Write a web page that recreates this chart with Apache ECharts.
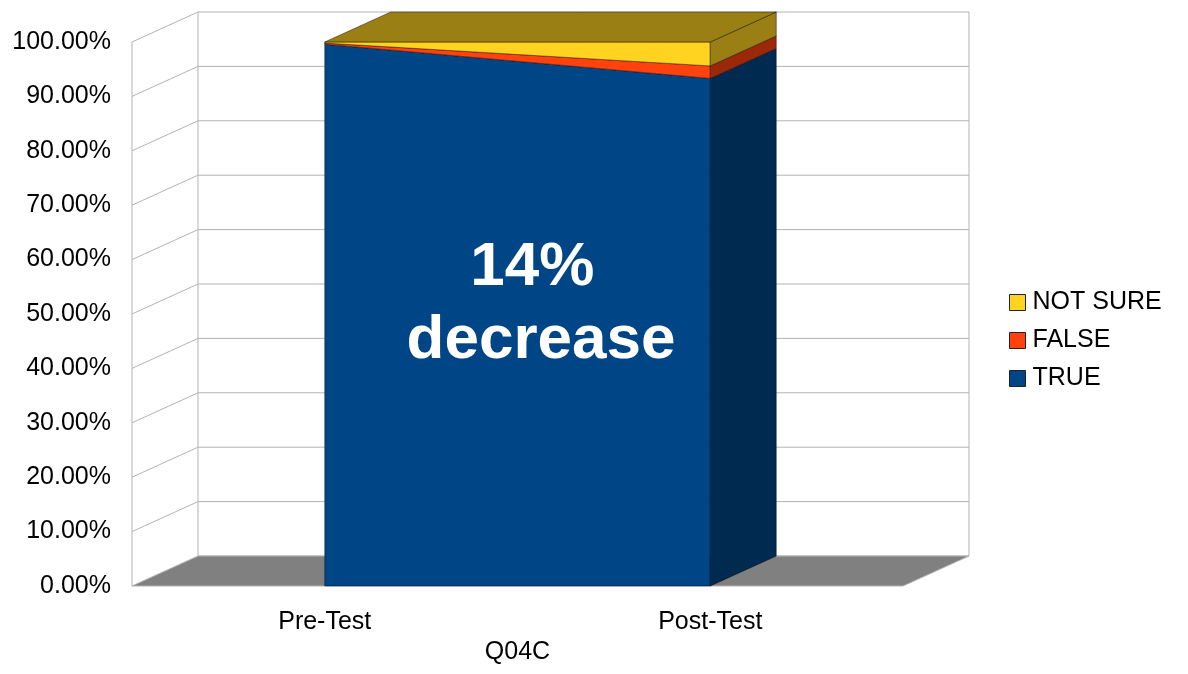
<!DOCTYPE html>
<html>
<head>
<meta charset="utf-8">
<script src="https://cdn.jsdelivr.net/npm/echarts@6/dist/echarts.min.js"></script>
<style>
  html, body { margin: 0; padding: 0; background: #fff; }
  #chart { width: 1188px; height: 674px; }
</style>
</head>
<body>
<div id="chart"></div>
<script>
const categories = ['Pre-Test', 'Post-Test']
const trueVals    = [99.6, 93.3]
const falseVals   = [0.2, 2.3]
const notSureVals = [0.2, 4.4]
const yTicks = [0, 10, 20, 30, 40, 50, 60, 70, 80, 90, 100]

// oblique depth of the 3d box, in px
const DX = 66
const DY = -30
const FONT = '"Liberation Sans", Arial, sans-serif'

const seriesDefs = [
  { name: 'TRUE',     vals: trueVals,    color: '#004586', shade: '#002a50' },
  { name: 'FALSE',    vals: falseVals,   color: '#ff420e', shade: '#9b2808' },
  { name: 'NOT SURE', vals: notSureVals, color: '#ffd320', shade: '#9a7f14' },
]

// stacked low / high for each category
const base = [0, 0]
const stacked = seriesDefs.map(s => {
  const lo = base.slice()
  const hi = s.vals.map((v, i) => base[i] + v)
  base[0] = hi[0]; base[1] = hi[1]
  return { ...s, lo, hi }
})

const edge = { stroke: 'rgba(0,0,0,0.55)', lineWidth: 0.8 }
const off = p => [p[0] + DX, p[1] + DY]

function areaItem(isTop, def) {
  return function (params, api) {
    const a0 = api.coord([0, api.value(1)])
    const a1 = api.coord([0, api.value(2)])
    const b0 = api.coord([1, api.value(3)])
    const b1 = api.coord([1, api.value(4)])
    const children = [
      { type: 'polygon', shape: { points: [a0, a1, b1, b0] },
        style: { fill: def.color, ...edge } },
      { type: 'polygon', shape: { points: [b0, b1, off(b1), off(b0)] },
        style: { fill: def.shade, ...edge } },
    ]
    if (isTop) {
      children.push({ type: 'polygon', shape: { points: [a1, b1, off(b1), off(a1)] },
        style: { fill: def.shade, ...edge } })
    }
    return { type: 'group', children }
  }
}

function wallItem(params, api) {
  const cs = params.coordSys
  const x0 = cs.x, x1 = cs.x + cs.width
  const v = api.value(1)
  const y = api.coord([0, v])[1]
  const grid = { stroke: '#b3b3b3', lineWidth: 1 }
  const children = []
  if (v === 0) {
    const yTop = api.coord([0, yTicks[yTicks.length - 1]])[1]
    children.push(
      { type: 'line', shape: { x1: x0, y1: y, x2: x0, y2: yTop }, style: grid },
      { type: 'line', shape: { x1: x0 + DX, y1: y + DY, x2: x0 + DX, y2: yTop + DY }, style: grid },
      { type: 'line', shape: { x1: x1 + DX, y1: y + DY, x2: x1 + DX, y2: yTop + DY }, style: grid },
      { type: 'line', shape: { x1: x0 + DX, y1: y + DY, x2: x1 + DX, y2: y + DY }, style: grid },
      { type: 'polygon', shape: { points: [[x0, y], [x1, y], [x1 + DX, y + DY], [x0 + DX, y + DY]] },
        style: { fill: '#808080', stroke: '#b3b3b3', lineWidth: 1 } }
    )
  } else {
    children.push(
      { type: 'line', shape: { x1: x0, y1: y, x2: x0 + DX, y2: y + DY }, style: grid },
      { type: 'line', shape: { x1: x0 + DX, y1: y + DY, x2: x1 + DX, y2: y + DY }, style: grid }
    )
  }
  return { type: 'group', children }
}

const chart = echarts.init(document.getElementById('chart'), null, { renderer: 'canvas' })

chart.setOption({
  animation: false,
  backgroundColor: '#fff',
  textStyle: { fontFamily: FONT },
  grid: { left: 132, right: 285, top: 42, bottom: 88 },
  legend: {
    orient: 'vertical',
    left: 1004,
    top: 285,
    itemGap: 13,
    itemWidth: 16,
    itemHeight: 16,
    icon: 'rect',
    data: ['NOT SURE', 'FALSE', 'TRUE'],
    itemStyle: { borderColor: '#222', borderWidth: 1 },
    textStyle: { fontSize: 25, color: '#000', fontFamily: FONT, padding: [0, 0, 0, 2] },
    selectedMode: false,
  },
  xAxis: {
    type: 'category',
    data: categories,
    boundaryGap: true,
    axisLine: { show: false },
    axisTick: { show: false },
    axisLabel: { fontSize: 25, color: '#000', margin: 24, fontFamily: FONT },
    name: 'Q04C',
    nameLocation: 'middle',
    nameGap: 54,
    nameTextStyle: { fontSize: 25, color: '#000', fontFamily: FONT },
  },
  yAxis: {
    type: 'value',
    min: 0,
    max: 100,
    interval: 10,
    axisLine: { show: false },
    axisTick: { show: false },
    splitLine: { show: false },
    axisLabel: {
      fontSize: 25, color: '#000', margin: 21, fontFamily: FONT,
      formatter: v => v.toFixed(2) + '%',
    },
  },
  graphic: [{
    type: 'text',
    x: 541,
    y: 304,
    z: 100,
    style: {
      text: '14% \ndecrease',
      fill: '#fff',
      font: 'bold 62px ' + FONT,
      lineHeight: 73,
      align: 'center',
      verticalAlign: 'middle',
    },
  }],
  series: [
    {
      type: 'custom',
      name: 'walls',
      silent: true,
      clip: false,
      z: 1,
      data: yTicks.map(v => [0, v]),
      encode: { x: 0, y: 1 },
      renderItem: wallItem,
    },
    ...stacked.map((s, i) => ({
      type: 'custom',
      name: s.name,
      silent: true,
      clip: false,
      z: 2,
      itemStyle: { color: s.color },
      data: [[0, s.lo[0], s.hi[0], s.lo[1], s.hi[1]]],
      encode: { x: 0, y: [1, 2, 3, 4] },
      renderItem: areaItem(i === stacked.length - 1, s),
    })),
  ],
})
</script>
</body>
</html>
